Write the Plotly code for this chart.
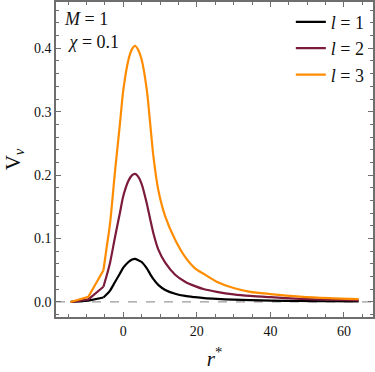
import plotly.graph_objects as go

# %% data (tortoise coordinate r*, potential V_v)
r_star = [-14.3, -9.5, -5.4, -4.5, -3.6, -2.3, -0.9, 0.0, 1.4, 2.4, 3.2, 4.0, 5.0, 6.4, 7.3, 8.2, 9.5, 11.4, 14.1, 16.8, 19.5, 22.0, 25.4, 30.0, 34.5, 40.0, 48.0, 56.0, 64.0]

v_l1 = [0.0, 0.002, 0.007, 0.012, 0.018, 0.031, 0.045, 0.054, 0.063, 0.067, 0.068, 0.066, 0.063, 0.053, 0.044, 0.036, 0.027, 0.019, 0.013, 0.0095, 0.0075, 0.006, 0.0048, 0.0036, 0.0028, 0.0022, 0.0015, 0.0011, 0.0008]
v_l2 = [0.0, 0.004, 0.024, 0.042, 0.062, 0.101, 0.141, 0.167, 0.191, 0.200, 0.202, 0.198, 0.186, 0.155, 0.131, 0.108, 0.083, 0.062, 0.043, 0.032, 0.025, 0.020, 0.016, 0.012, 0.0095, 0.0075, 0.005, 0.0035, 0.0025]
v_l3 = [0.0, 0.008, 0.050, 0.087, 0.124, 0.203, 0.282, 0.334, 0.382, 0.399, 0.404, 0.398, 0.382, 0.334, 0.282, 0.229, 0.177, 0.135, 0.098, 0.071, 0.053, 0.044, 0.032, 0.022, 0.016, 0.0125, 0.0085, 0.006, 0.0045]

series = [
    ("<i>l</i> = 1", v_l1, "#000000"),
    ("<i>l</i> = 2", v_l2, "#7b1a3a"),
    ("<i>l</i> = 3", v_l3, "#ff8c00"),
]

FONT = "Liberation Serif, DejaVu Serif, serif"
FRAME = "#6e6e6e"
TXT = "#111111"
N_COARSE = 3  # first samples are joined by straight segments (sparse grid near horizon)

# %% figure
fig = go.Figure()

# zero reference line
fig.add_trace(go.Scatter(x=[-18.3, 67.9], y=[0, 0], mode="lines",
                         line=dict(color="#9a9a9a", width=1.2, dash="dash"),
                         showlegend=False, hoverinfo="skip"))

for name, v, col in series:
    fig.add_trace(go.Scatter(x=r_star[:N_COARSE], y=v[:N_COARSE], mode="lines",
                             line=dict(color=col, width=2.2), showlegend=False, legendgroup=name))
    fig.add_trace(go.Scatter(x=r_star[N_COARSE - 1:], y=v[N_COARSE - 1:], mode="lines", name=name,
                             legendgroup=name,
                             line=dict(color=col, width=2.2, shape="spline", smoothing=0.8)))

axis_common = dict(
    showgrid=False, zeroline=False, showline=True, linecolor=FRAME, linewidth=1.5,
    mirror="allticks", ticks="inside", ticklen=5, tickcolor=FRAME, tickwidth=1,
    tickfont=dict(family=FONT, size=14, color=TXT), automargin=False,
)

fig.update_xaxes(
    **axis_common, range=[-18.3, 67.9], tickvals=[0, 20, 40, 60],
    minor=dict(dtick=5, tick0=0, ticks="inside", ticklen=3, tickcolor=FRAME),
    title=dict(text="<i>r</i><sup>*</sup>", font=dict(family=FONT, size=21, color=TXT), standoff=14),
)
fig.update_yaxes(
    **axis_common, range=[-0.0237, 0.473], tickvals=[0.0, 0.1, 0.2, 0.3, 0.4],
    ticktext=["0.0", "0.1", "0.2", "0.3", "0.4"],
    minor=dict(dtick=0.02, tick0=0, ticks="inside", ticklen=3, tickcolor=FRAME),
    title=dict(text="V<sub><i>v</i></sub>", font=dict(family=FONT, size=21, color=TXT), standoff=8),
)

fig.add_annotation(x=0.02, y=0.985, xref="paper", yref="paper", xanchor="left", yanchor="top",
                   text="<i>M</i> = 1<br> <i>χ</i> = 0.1", showarrow=False, align="left",
                   font=dict(family=FONT, size=18, color=TXT))

fig.update_layout(
    width=375, height=372,
    margin=dict(l=56, r=2, t=2, b=55),
    plot_bgcolor="white", paper_bgcolor="white",
    legend=dict(x=0.99, y=0.995, xanchor="right", yanchor="top", bgcolor="rgba(0,0,0,0)",
                font=dict(family=FONT, size=18, color=TXT), itemwidth=30,
                tracegroupgap=0),
    showlegend=True,
)

# drop the default page margin so the figure sits at the window's corner
fig.write_html("out.html", config={"displayModeBar": False},
               post_script="document.body.style.margin='0';")
